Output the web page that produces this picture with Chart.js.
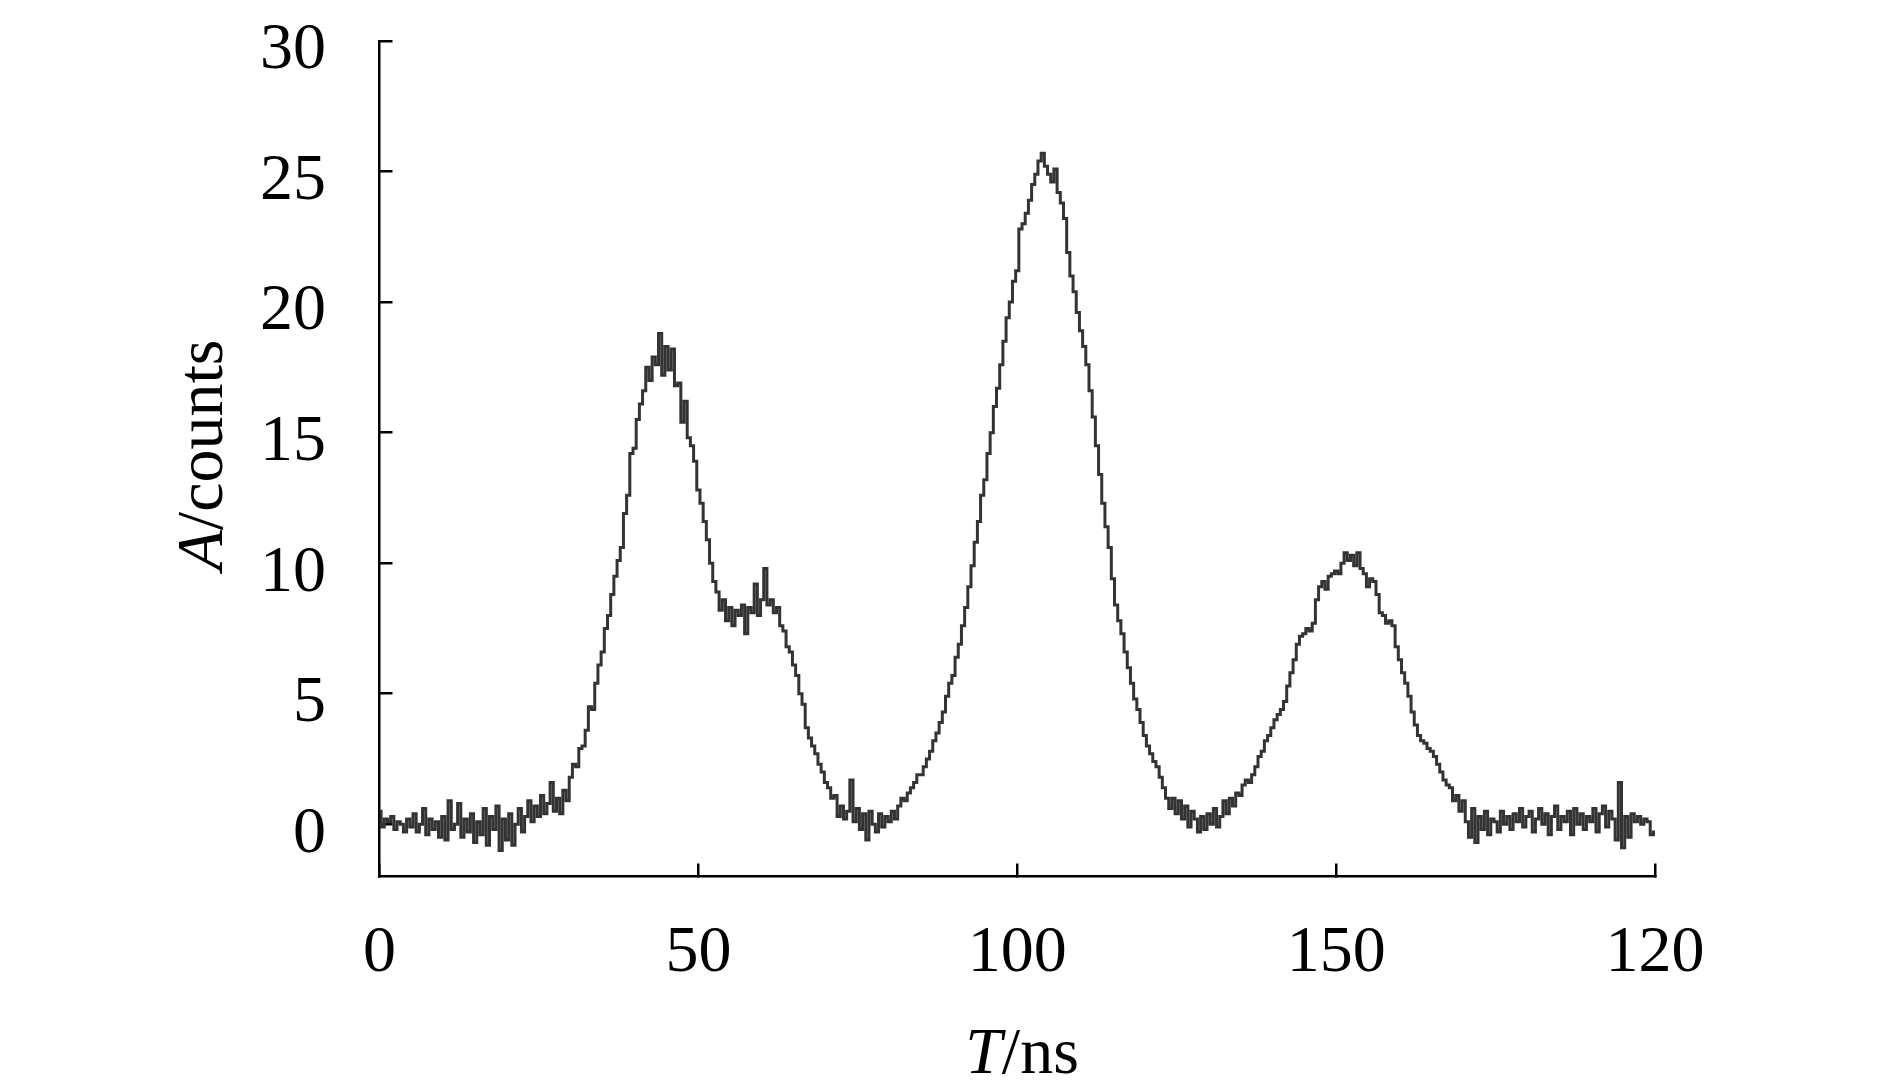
<!DOCTYPE html>
<html><head><meta charset="utf-8">
<script src="https://cdn.jsdelivr.net/npm/chart.js@4.4.1/dist/chart.umd.min.js"></script>
<style>html,body{margin:0;padding:0;background:#fff;overflow:hidden}canvas{display:block}</style>
</head><body>
<canvas id="c" width="1890" height="1080"></canvas>
<script>
// sampling step of the trace (ns)
const stepNs = 0.5;
// A (counts), T = 0 ... 49.5 ns
const counts0to50 = [
  0.5, -0.1, 0.2, 0.1, 0.3, -0.2, 0.1, 0.0, -0.3, 0.2,
  -0.1, 0.4, -0.3, 0.0, 0.6, -0.4, 0.2, -0.2, 0.1, -0.5,
  0.3, -0.6, 0.9, -0.2, 0.0, 0.8, -0.5, 0.2, -0.3, 0.4,
  -0.7, 0.1, -0.4, 0.6, -0.8, 0.3, -0.2, 0.7, -1.0, 0.2,
  -0.6, 0.4, -0.8, 0.0, 0.6, -0.3, 0.3, 0.9, 0.1, 0.7,
  0.3, 1.1, 0.4, 0.8, 1.6, 0.5, 1.0, 0.4, 1.3, 0.9,
  1.8, 2.3, 2.2, 2.9, 3.0, 3.6, 4.5, 4.4, 5.4, 6.1,
  6.6, 7.5, 8.0, 8.8, 9.5, 10.1, 10.6, 11.9, 12.6, 14.2,
  14.4, 15.5, 16.1, 16.6, 17.5, 17.0, 17.9, 17.6, 18.8, 17.2,
  18.3, 17.4, 18.2, 16.8, 16.9, 15.4, 16.2, 14.8, 14.5, 13.9
];
// T = 50 ... 99.5 ns
const counts50to100 = [
  12.8, 12.3, 11.6, 10.9, 10.0, 9.3, 8.9, 8.2, 8.6, 7.8,
  8.3, 7.6, 8.2, 8.0, 8.4, 7.3, 8.3, 8.1, 9.2, 8.0,
  8.6, 9.8, 8.4, 8.6, 8.1, 8.3, 7.6, 7.4, 6.8, 6.6,
  6.1, 5.7, 5.0, 4.6, 3.7, 3.3, 3.0, 2.7, 2.3, 2.0,
  1.6, 1.4, 1.0, 1.1, 0.3, 0.7, 0.2, 0.5, 1.7, 0.1,
  0.6, -0.2, 0.4, -0.6, 0.5, 0.0, -0.3, 0.4, -0.1, 0.3,
  0.1, 0.5, 0.2, 0.7, 1.0, 0.9, 1.2, 1.4, 1.6, 1.9,
  1.9, 2.2, 2.5, 2.8, 3.2, 3.5, 3.9, 4.3, 4.9, 5.4,
  5.7, 6.4, 6.9, 7.6, 8.3, 9.1, 9.9, 10.8, 11.6, 12.6,
  13.2, 14.2, 15.0, 16.0, 16.7, 17.6, 18.5, 19.4, 20.0, 20.8
];
// T = 100 ... 149.5 ns
const counts100to150 = [
  21.2, 22.8, 23.0, 23.4, 23.9, 24.5, 24.9, 25.4, 25.7, 25.2,
  24.9, 24.6, 25.1, 24.2, 23.8, 23.2, 21.9, 21.0, 20.4, 19.6,
  18.9, 18.3, 17.6, 16.6, 15.6, 14.5, 13.4, 12.3, 11.4, 10.6,
  9.4, 8.4, 7.8, 7.3, 6.6, 6.0, 5.4, 4.8, 4.4, 3.9,
  3.4, 3.0, 2.7, 2.4, 2.2, 1.8, 1.4, 1.0, 0.6, 1.0,
  0.4, 0.9, 0.2, 0.7, -0.1, 0.5, 0.2, -0.3, 0.3, -0.2,
  0.4, 0.0, 0.6, -0.1, 0.3, 0.9, 0.4, 1.0, 0.7, 1.2,
  1.1, 1.5, 1.7, 1.6, 1.9, 2.2, 2.6, 2.8, 3.2, 3.4,
  3.7, 4.0, 4.2, 4.4, 4.7, 5.3, 5.8, 6.3, 6.9, 7.2,
  7.3, 7.5, 7.4, 7.7, 8.6, 9.1, 9.3, 9.0, 9.5, 9.6
];
// T = 150 ... 200 ns
const counts150to200 = [
  9.7, 9.6, 10.0, 10.4, 10.1, 10.3, 9.9, 10.4, 9.8, 9.6,
  9.1, 9.4, 9.3, 8.8, 8.1, 8.0, 7.7, 7.8, 7.6, 6.8,
  6.3, 5.8, 5.4, 4.9, 4.3, 3.8, 3.4, 3.2, 3.1, 2.9,
  2.8, 2.6, 2.3, 2.0, 1.7, 1.5, 1.4, 0.9, 1.1, 0.5,
  0.9, 0.1, -0.5, 0.6, -0.7, 0.3, -0.2, 0.5, -0.4, 0.2,
  0.1, -0.3, 0.5, 0.0, 0.3, -0.2, 0.4, 0.1, 0.6, -0.1,
  0.3, 0.5, -0.3, 0.2, 0.6, 0.0, 0.4, -0.4, 0.3, 0.7,
  -0.2, 0.3, 0.1, 0.5, -0.4, 0.6, 0.0, 0.4, -0.2, 0.3,
  0.1, 0.6, -0.3, 0.4, 0.7, -0.1, 0.5, 0.2, -0.6, 1.6,
  -0.9, 0.3, -0.5, 0.4, 0.1, 0.3, 0.0, 0.2, 0.1, -0.4,
  -0.3
];
const xTickValues = [0, 50, 100, 150, 200];
const xTickLabels = ['0', '50', '100', '150', '120'];
const yTickValues = [0, 5, 10, 15, 20, 25, 30];
const yTickLabels = ['0', '5', '10', '15', '20', '25', '30'];
const xTitleParts = ['T', '/ns'];
const yTitleParts = ['A', '/counts'];

const allCounts = [].concat(counts0to50, counts50to100, counts100to150, counts150to200);
const points = allCounts.map((v, i) => ({ x: i * stepNs, y: v }));

const FONT = '"Liberation Serif", "Times New Roman", serif';

const titlePlugin = {
  id: 'axisTitles',
  afterDraw(chart) {
    const ctx = chart.ctx;
    const fi = 'italic 66px ' + FONT;
    const fr = '66px ' + FONT;
    function drawMixed(parts, cx, baseY) {
      ctx.font = fi; const w1 = ctx.measureText(parts[0]).width;
      ctx.font = fr; const w2 = ctx.measureText(parts[1]).width;
      const x0 = cx - (w1 + w2) / 2;
      ctx.textAlign = 'left'; ctx.textBaseline = 'alphabetic'; ctx.fillStyle = '#000';
      ctx.font = fi; ctx.fillText(parts[0], x0, baseY);
      ctx.font = fr; ctx.fillText(parts[1], x0 + w1, baseY);
    }
    ctx.save();
    drawMixed(xTitleParts, 1022, 1073);
    ctx.restore();
    ctx.save();
    ctx.translate(222, 455);
    ctx.rotate(-Math.PI / 2);
    drawMixed(yTitleParts, 0, 0);
    ctx.restore();
  }
};

function zeroPad(s) { s.paddingTop = 0; s.paddingBottom = 0; s.paddingLeft = 0; s.paddingRight = 0; }

new Chart(document.getElementById('c'), {
  type: 'line',
  data: {
    datasets: [{
      data: points,
      borderColor: '#333333',
      borderWidth: 3,
      pointRadius: 0,
      stepped: 'middle',
      fill: false
    }]
  },
  options: {
    responsive: false,
    animation: false,
    devicePixelRatio: 1,
    layout: { padding: { top: 41, right: 235, left: 0, bottom: 0 } },
    plugins: { legend: { display: false }, tooltip: { enabled: false } },
    scales: {
      x: {
        type: 'linear',
        min: 0, max: 200,
        afterBuildTicks: (s) => { s.ticks = xTickValues.map(v => ({ value: v })); },
        afterFit: (s) => { s.height = 1080 - 876.5; zeroPad(s); },
        border: { display: true, color: '#000', width: 2.5 },
        grid: { display: true, drawOnChartArea: false, drawTicks: true, tickLength: -13, color: '#000', lineWidth: 2.5 },
        ticks: {
          padding: 57.5,
          maxRotation: 0,
          autoSkip: false,
          color: '#000',
          font: { family: FONT, size: 66, lineHeight: 1 },
          callback: (v, i) => xTickLabels[i]
        }
      },
      y: {
        type: 'linear',
        min: -2, max: 30,
        afterBuildTicks: (s) => { s.ticks = yTickValues.map(v => ({ value: v })); },
        afterFit: (s) => { s.width = 379.5; zeroPad(s); },
        border: { display: true, color: '#000', width: 2.5 },
        grid: { display: true, drawOnChartArea: false, drawTicks: true, tickLength: -13, color: '#000', lineWidth: 2.5 },
        ticks: {
          padding: 66.5,
          labelOffset: 10,
          autoSkip: false,
          color: '#000',
          font: { family: FONT, size: 66, lineHeight: 1 },
          callback: (v, i) => yTickLabels[i]
        }
      }
    }
  },
  plugins: [titlePlugin]
});
</script>
</body></html>
